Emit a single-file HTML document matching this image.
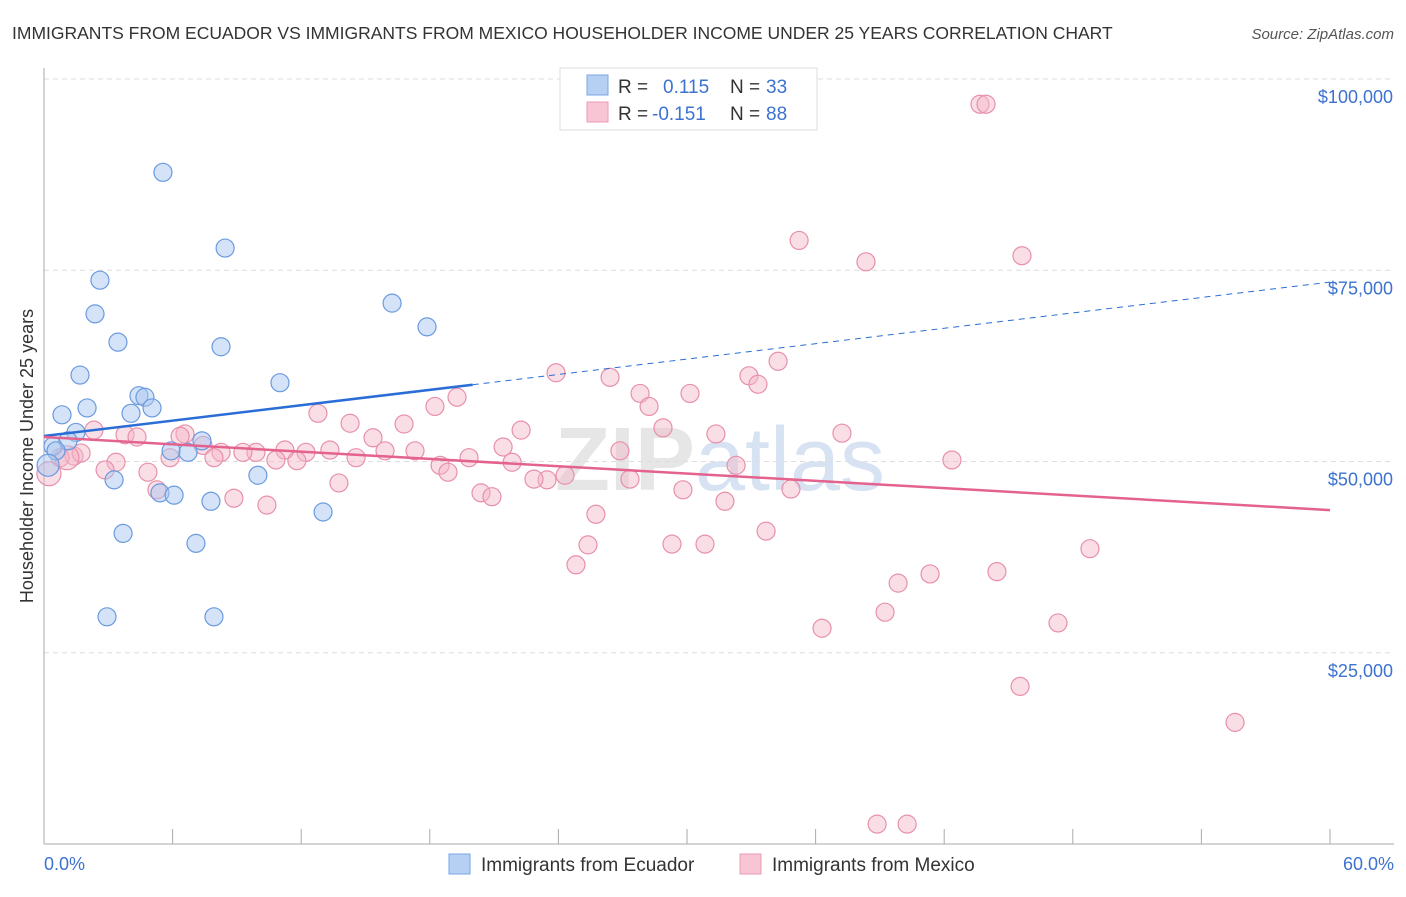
<!DOCTYPE html>
<html><head><meta charset="utf-8"><style>
body{margin:0;background:#fff;font-family:"Liberation Sans",sans-serif;}
svg text{font-family:"Liberation Sans",sans-serif;}
</style></head><body>
<svg id="chart" width="1406" height="892" xmlns="http://www.w3.org/2000/svg">
<text x="12" y="39" font-size="17.5" fill="#333">IMMIGRANTS FROM ECUADOR VS IMMIGRANTS FROM MEXICO HOUSEHOLDER INCOME UNDER 25 YEARS CORRELATION CHART</text>
<text x="1394" y="39" font-size="15" fill="#555" font-style="italic" text-anchor="end">Source: ZipAtlas.com</text>
<text x="720" y="490" font-size="90" fill="#e6e6e6" text-anchor="middle" font-family="Liberation Serif"><tspan font-weight="bold">ZIP</tspan><tspan fill="#d7e3f2" font-family="Liberation Sans">atlas</tspan></text>
<g id="grid"></g><g id="marks"></g>
<text transform="translate(33,456) rotate(-90)" font-size="18" fill="#333" text-anchor="middle">Householder Income Under 25 years</text>
<text x="44" y="870" font-size="18" fill="#3d72d0">0.0%</text>
<text x="1394" y="870" font-size="18" fill="#3d72d0" text-anchor="end">60.0%</text>
<g>
<rect x="560" y="68" width="257" height="62" fill="#fff" stroke="#ddd"/>
<rect x="587" y="75" width="21" height="20" fill="#b5d0f3" stroke="#7aa6e3"/>
<rect x="587" y="102" width="21" height="20" fill="#f8c5d4" stroke="#ec9ab3"/>
<text x="618" y="93" font-size="19" fill="#333">R = </text><text x="663" y="93" font-size="19" fill="#3d72d0">0.115</text>
<text x="730" y="93" font-size="19" fill="#333">N = </text><text x="766" y="93" font-size="19" fill="#3d72d0">33</text>
<text x="618" y="120" font-size="19" fill="#333">R = </text><text x="652" y="120" font-size="19" fill="#3d72d0">-0.151</text>
<text x="730" y="120" font-size="19" fill="#333">N = </text><text x="766" y="120" font-size="19" fill="#3d72d0">88</text>
</g>
<g>
<rect x="449" y="854" width="21" height="20" fill="#b5d0f3" stroke="#7aa6e3"/>
<text x="481" y="871" font-size="19" fill="#333">Immigrants from Ecuador</text>
<rect x="740" y="854" width="21" height="20" fill="#f8c5d4" stroke="#ec9ab3"/>
<text x="772" y="871" font-size="19" fill="#333">Immigrants from Mexico</text>
</g>
</svg>
<script>
const yTicks=[25000,50000,75000,100000];
const yTickLabels=["$25,000","$50,000","$75,000","$100,000"];
const xTicks=[0,6,12,18,24,30,36,42,48,54,60];
const ecuadorX=[5.55,8.45,2.61,2.38,3.45,1.68,8.26,11.01,16.24,17.87,4.43,4.71,5.04,4.06,2.01,0.84,1.49,0.42,1.12,0.56,3.27,5.93,7.37,6.72,9.98,5.41,6.07,7.79,13.02,3.69,7.09,2.94,7.93,0.19];
const ecuadorY=[87.8,77.9,73.7,69.3,65.6,61.3,65.0,60.3,70.7,67.6,58.6,58.4,57.0,56.3,57.0,56.1,53.8,52.0,52.7,51.4,47.6,51.4,52.7,51.2,48.2,45.9,45.6,44.8,43.4,40.6,39.3,29.7,29.7,49.5];
const mexicoX=[43.67,43.95,35.23,38.35,45.63,34.25,23.89,26.41,32.89,33.31,27.81,30.14,28.23,19.27,18.24,12.78,14.28,16.80,22.26,28.88,31.35,37.23,2.33,3.78,4.34,6.58,7.42,6.35,15.35,21.42,26.87,42.36,32.29,18.48,19.83,17.31,15.91,14.56,13.34,11.24,12.22,9.89,9.28,8.26,7.93,10.82,11.80,5.88,1.40,1.73,0.75,3.36,2.85,4.85,21.84,24.31,23.47,22.86,27.34,18.85,13.76,20.39,20.90,5.27,8.86,10.40,25.75,29.81,31.77,34.85,25.38,29.30,30.84,33.69,24.82,41.34,39.85,44.46,48.80,39.24,47.31,36.30,45.54,55.57,38.87,40.27,0.23,1.07];
const mexicoY=[96.7,96.7,78.9,76.1,76.9,63.1,61.6,61.0,61.2,60.1,58.9,58.9,57.2,58.4,57.2,56.3,55.0,54.9,54.1,54.4,53.6,53.7,54.1,53.5,53.2,53.6,52.1,53.3,53.1,51.9,51.4,50.2,49.5,49.5,50.5,51.4,51.4,50.5,51.5,51.5,51.2,51.2,51.2,51.2,50.5,50.2,50.1,50.5,50.7,51.1,50.5,49.9,48.9,48.6,49.9,48.2,47.6,47.7,47.7,48.6,47.2,45.9,45.4,46.3,45.2,44.3,43.1,46.3,44.8,46.4,39.1,39.2,39.2,40.9,36.5,35.3,34.1,35.6,38.6,30.3,28.9,28.2,20.6,15.9,2.6,2.6,48.4,50.5];
const ecuadorTrend=[53330,73450];
const mexicoTrend=[53200,43650];
const NS="http://www.w3.org/2000/svg";
const sx=v=>44+v/60*1286;
const sy=v=>844-v/100000*765;
function mk(tag,attrs,parent){const e=document.createElementNS(NS,tag);for(const k in attrs)e.setAttribute(k,attrs[k]);parent.appendChild(e);return e;}
const grid=document.getElementById('grid'),marks=document.getElementById('marks');
yTicks.forEach((t,i)=>{
 const l=mk('line',{x1:44,x2:1394,y1:sy(t),y2:sy(t),stroke:'#ddd','stroke-dasharray':'5,4'},grid);
 
 
 const tx=mk('text',{x:1393,y:sy(t)+24,'font-size':18,fill:'#3d72d0','text-anchor':'end'},grid);
 tx.textContent=yTickLabels[i];
 
 
});
const ax=mk('line',{x1:44,x2:44,y1:68,y2:844,stroke:'#aaa'},grid);


const bx=mk('line',{x1:44,x2:1394,y1:844,y2:844,stroke:'#aaa'},grid);


xTicks.forEach(t=>{const k=mk('line',{x1:sx(t),x2:sx(t),y1:829,y2:844,stroke:'#aaa'},grid);
 
 });
mexicoX.forEach((x,i)=>{const c=mk('circle',{cx:sx(x),cy:sy(mexicoY[i]*1000),r:(i>=86?12:9),fill:'#f5b5c8','fill-opacity':0.45,stroke:'#e890ab','stroke-width':1.2},marks);
 
 });
ecuadorX.forEach((x,i)=>{const c=mk('circle',{cx:sx(x),cy:sy(ecuadorY[i]*1000),r:(i==33?11:9),fill:'#a9c8f0','fill-opacity':0.5,stroke:'#6a9be0','stroke-width':1.2},marks);
 
 });
const ey=x=>ecuadorTrend[0]+(ecuadorTrend[1]-ecuadorTrend[0])*x/60;
const my=x=>mexicoTrend[0]+(mexicoTrend[1]-mexicoTrend[0])*x/60;
const e1=mk('line',{x1:sx(0),y1:sy(ey(0)),x2:sx(20),y2:sy(ey(20)),stroke:'#2a6dd6','stroke-width':2.5},marks);


const e2=mk('line',{x1:sx(20),y1:sy(ey(20)),x2:sx(60),y2:sy(ey(60)),stroke:'#2a6dd6','stroke-width':1,'stroke-dasharray':'6,5'},marks);


const m1=mk('line',{x1:sx(0),y1:sy(my(0)),x2:sx(60),y2:sy(my(60)),stroke:'#e4628e','stroke-width':2.5},marks);


</script>
</body></html>
